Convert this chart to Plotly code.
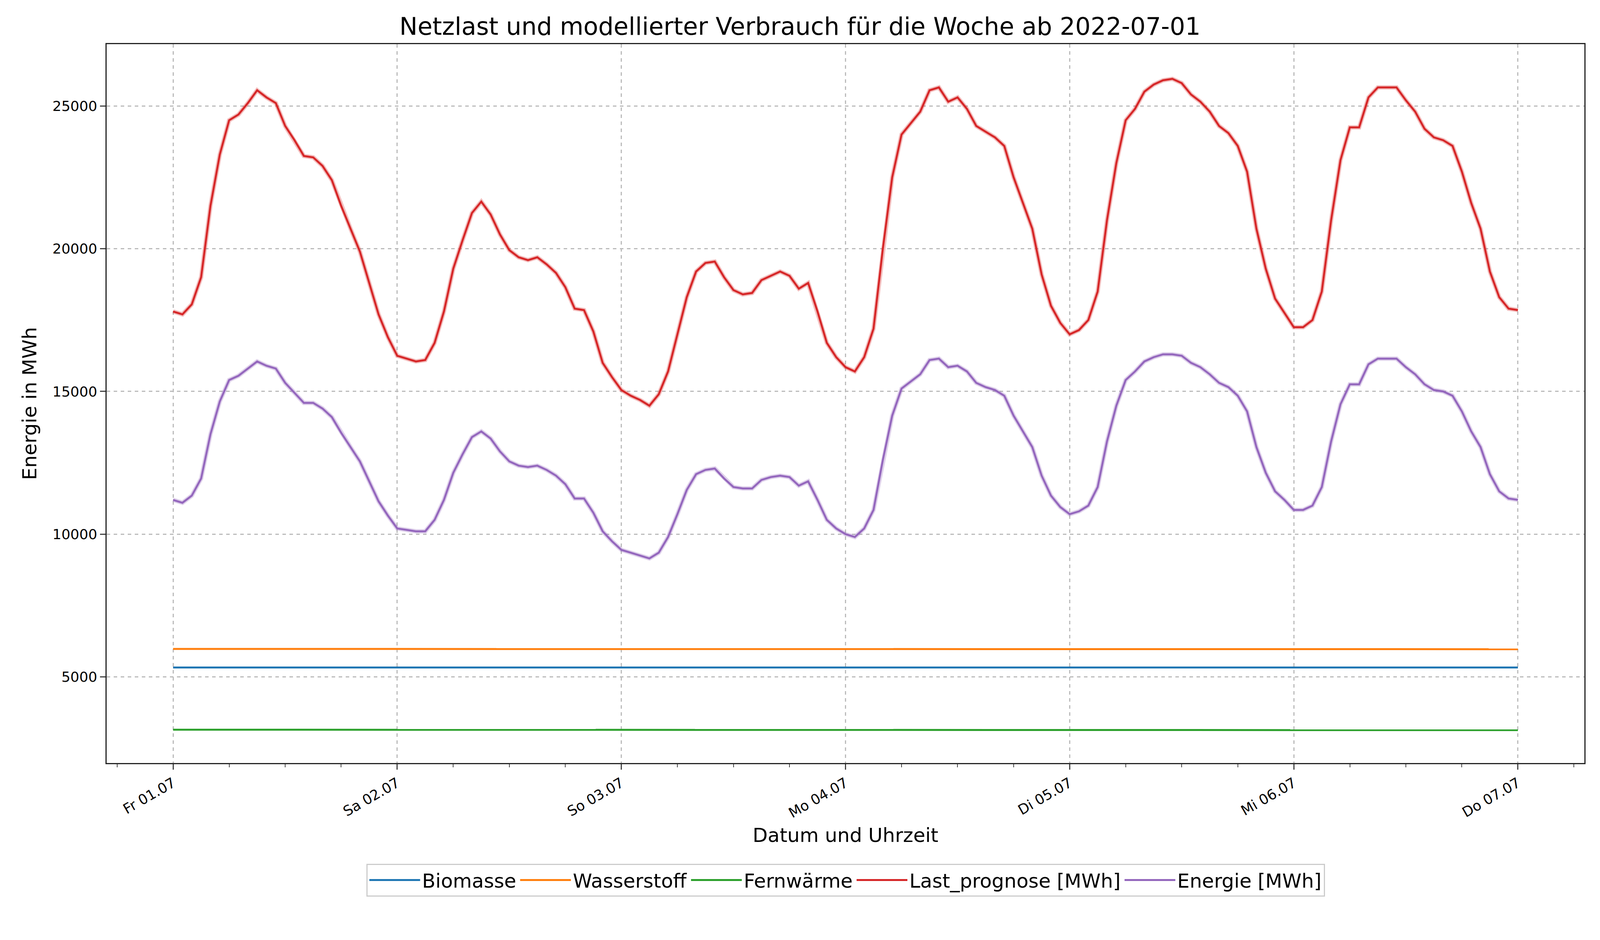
import plotly.graph_objects as go
import pandas as pd

# hourly values, Fr 01.07 00:00 .. Do 07.07 00:00
zeit = pd.date_range("2022-07-01 00:00", "2022-07-07 00:00", freq="h")

last_prognose = [
    17800, 17700, 18050, 19000, 21500, 23300, 24500, 24700, 25100, 25550, 25300, 25100,
    24300, 23800, 23250, 23200, 22900, 22400, 21500, 20700, 19900, 18800, 17700, 16900,
    16250, 16150, 16050, 16100, 16700, 17800, 19300, 20300, 21250, 21650, 21200, 20500,
    19950, 19700, 19600, 19700, 19450, 19150, 18650, 17900, 17850, 17100, 16000, 15500,
    15050, 14850, 14700, 14500, 14900, 15700, 17000, 18300, 19200, 19500, 19550, 19000,
    18550, 18400, 18450, 18900, 19050, 19200, 19050, 18600, 18800, 17800, 16700, 16200,
    15850, 15700, 16200, 17200, 20000, 22500, 24000, 24400, 24800, 25550, 25650, 25150,
    25300, 24900, 24300, 24100, 23900, 23600, 22500, 21600, 20700, 19100, 18000, 17400,
    17000, 17150, 17500, 18500, 21000, 23000, 24500, 24900, 25500, 25750, 25900, 25950,
    25800, 25400, 25150, 24800, 24300, 24050, 23600, 22700, 20700, 19300, 18250, 17750,
    17250, 17250, 17500, 18500, 21000, 23100, 24250, 24250, 25300, 25650, 25650, 25650,
    25200, 24800, 24200, 23900, 23800, 23600, 22700, 21600, 20700, 19200, 18300, 17900,
    17850,
]

energie = [
    11200, 11100, 11350, 11950, 13500, 14650, 15400, 15550, 15800, 16050, 15900, 15800,
    15300, 14950, 14600, 14600, 14400, 14100, 13550, 13050, 12550, 11850, 11150, 10650,
    10200, 10150, 10100, 10100, 10500, 11200, 12150, 12800, 13400, 13600, 13350, 12900,
    12550, 12400, 12350, 12400, 12250, 12050, 11750, 11250, 11250, 10750, 10100, 9750,
    9450, 9350, 9250, 9150, 9350, 9900, 10700, 11550, 12100, 12250, 12300, 11950,
    11650, 11600, 11600, 11900, 12000, 12050, 12000, 11700, 11850, 11200, 10500, 10200,
    10000, 9900, 10200, 10850, 12600, 14150, 15100, 15350, 15600, 16100, 16150, 15850,
    15900, 15700, 15300, 15150, 15050, 14850, 14150, 13600, 13050, 12050, 11350, 10950,
    10700, 10800, 11000, 11650, 13250, 14500, 15400, 15700, 16050, 16200, 16300, 16300,
    16250, 16000, 15850, 15600, 15300, 15150, 14850, 14300, 13050, 12150, 11500, 11200,
    10850, 10850, 11000, 11650, 13250, 14550, 15250, 15250, 15950, 16150, 16150, 16150,
    15850, 15600, 15250, 15050, 15000, 14850, 14300, 13600, 13050, 12100, 11500, 11250,
    11200,
]

biomasse = [5330] * len(zeit)
wasserstoff = [5980] * 73 + [5970] * 72
fernwaerme = [3150] * 73 + [3135] * 72

tick_dates = pd.date_range("2022-07-01", "2022-07-07", freq="D")
tick_labels = ["Fr 01.07", "Sa 02.07", "So 03.07", "Mo 04.07", "Di 05.07", "Mi 06.07", "Do 07.07"]

fig = go.Figure()
# light band under the forecast lines
fig.add_trace(go.Scatter(x=zeit, y=last_prognose, mode="lines", showlegend=False, hoverinfo="skip",
                         line=dict(color="rgba(214,39,40,0.3)", width=11)))
fig.add_trace(go.Scatter(x=zeit, y=energie, mode="lines", showlegend=False, hoverinfo="skip",
                         line=dict(color="rgba(148,103,189,0.3)", width=11)))

fig.add_trace(go.Scatter(x=zeit, y=biomasse, mode="lines", name="Biomasse",
                         line=dict(color="#1f77b4", width=5)))
fig.add_trace(go.Scatter(x=zeit, y=wasserstoff, mode="lines", name="Wasserstoff",
                         line=dict(color="#ff7f0e", width=5)))
fig.add_trace(go.Scatter(x=zeit, y=fernwaerme, mode="lines", name="Fernwärme",
                         line=dict(color="#2ca02c", width=5)))
fig.add_trace(go.Scatter(x=zeit, y=last_prognose, mode="lines", name="Last_prognose [MWh]",
                         line=dict(color="#d62728", width=5)))
fig.add_trace(go.Scatter(x=zeit, y=energie, mode="lines", name="Energie [MWh]",
                         line=dict(color="#9467bd", width=5)))

fig.update_layout(
    template="simple_white",
    autosize=True,
    font=dict(family="DejaVu Sans", color="black", size=34),
    title=dict(text="Netzlast und modellierter Verbrauch für die Woche ab 2022-07-01",
               x=0.5, xanchor="center", y=0.975, yanchor="middle", font=dict(size=62)),
    margin=dict(l=265, r=32, t=105, b=445),
    legend=dict(orientation="h", x=0.5, xanchor="center", y=-0.14, yanchor="top",
                font=dict(size=50), bordercolor="#cccccc", borderwidth=3,
                itemwidth=130, tracegroupgap=0),
    showlegend=True,
)
fig.update_xaxes(
    range=[pd.Timestamp("2022-06-30 16:53"), pd.Timestamp("2022-07-07 07:07")],
    tickvals=tick_dates, ticktext=tick_labels, tickangle=-30,
    tickfont=dict(size=36), ticks="outside", ticklen=14, tickwidth=3,
    showline=True, linewidth=3, mirror=True,
    showgrid=True, gridcolor="#bbbbbb", griddash="dash", gridwidth=3,
    minor=dict(dtick=6 * 3600 * 1000, ticks="outside", ticklen=8, tickwidth=2),
    title=dict(text="Datum und Uhrzeit", font=dict(size=50), standoff=20),
)
fig.update_yaxes(
    range=[1983, 27166], tickvals=[5000, 10000, 15000, 20000, 25000], tickformat="d",
    tickfont=dict(size=36), ticks="outside", ticklen=14, tickwidth=3,
    showline=True, linewidth=3, mirror=True,
    showgrid=True, gridcolor="#bbbbbb", griddash="dash", gridwidth=3,
    title=dict(text="Energie in MWh", font=dict(size=50), standoff=25),
)

fig.write_html("out.html")
